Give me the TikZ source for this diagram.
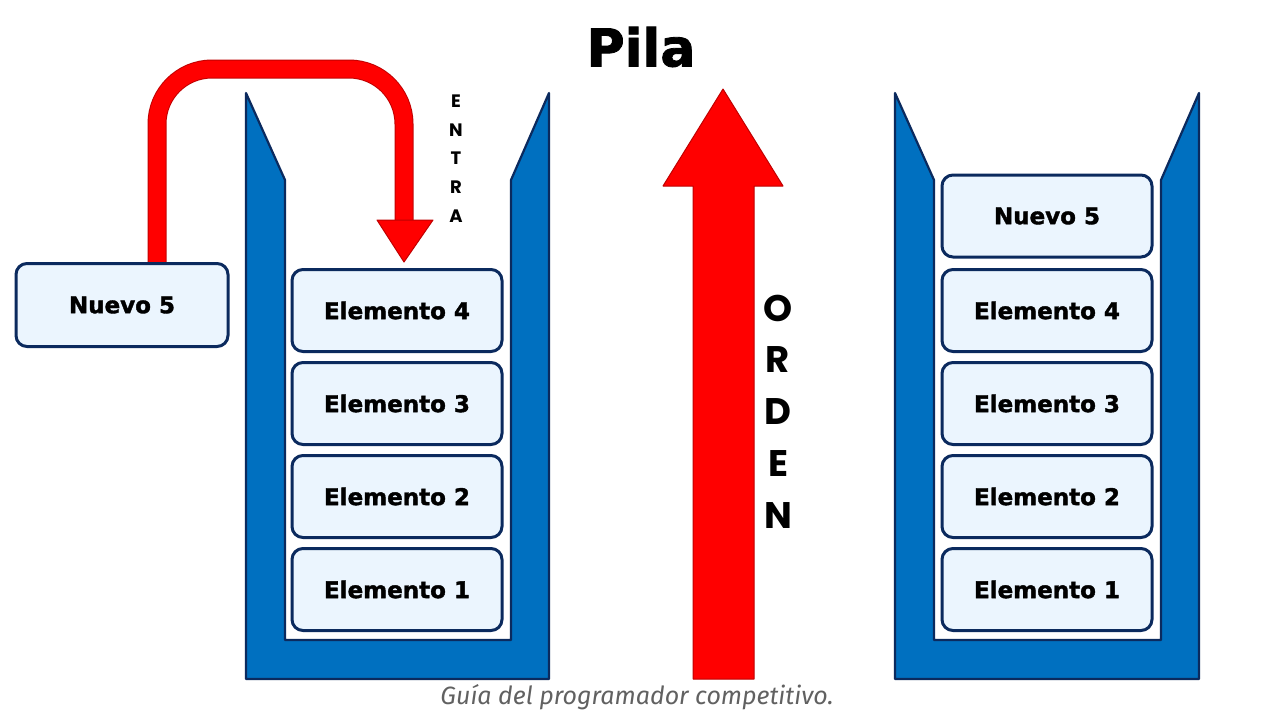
\documentclass[tikz,border=0pt]{standalone}
\usepackage{fontspec}
\setmainfont{DejaVu Sans}[BoldFeatures={FakeBold=1.6}]
\newfontfamily\gothic{Poppins}
\newfontfamily\hand{Fira Sans}
\usetikzlibrary{positioning}
\definecolor{navy}{HTML}{0B2A5E}
\definecolor{cubeta}{HTML}{0070C0}
\definecolor{cajafill}{HTML}{EBF5FE}
\definecolor{rojo}{HTML}{FF0000}
\definecolor{rojoosc}{HTML}{C00000}
\begin{document}
\begin{tikzpicture}[x=1pt,y=-1pt,
  caja/.style={draw=navy,line width=3pt,fill=cajafill,rounded corners=11pt,
    minimum width=210pt,minimum height=82pt,font=\bfseries\fontsize{23}{26}\selectfont},
  pared/.style={draw=navy,line width=2.2pt,fill=cubeta,line join=round},
  flecha/.style={draw=rojoosc,line width=1pt,fill=rojo,line join=round},
  tubo/.style={draw=rojoosc,line width=1pt,double=rojo,double distance=17pt,rounded corners=55pt},
  letra/.style={font=\gothic\bfseries\fontsize{18}{20}\selectfont},
  orden/.style={font=\gothic\bfseries\fontsize{37}{40}\selectfont},
  titulo/.style={font=\bfseries\fontsize{52}{56}\selectfont}]
\useasboundingbox (0,0) rectangle (1280,720);
\fill[white] (0,0) rectangle (1280,720);
\node[titulo] (titulo) at (641,47) {Pila};
% the two containers
\foreach \a/\b in {246/549,895/1199}
  \draw[pared] (\a,93) -- ({\a+39},180) -- ({\a+39},640) -- ({\b-38},640)
    -- ({\b-38},180) -- (\b,93) -- (\b,679) -- (\a,679) -- cycle;
% stacked elements
\foreach \n/\y in {1/589.5,2/496.5,3/403.5,4/310.5}
{
  \node[caja] (izq\n) at (397,\y) {Elemento \n};
  \node[caja] (der\n) at (1047,\y) {Elemento \n};
}
\node[caja] (der5) at (1047,216) {Nuevo 5};
% new element goes in
\coordinate (salida) at (157,264);
\coordinate (cabeza) at (404,221);
\coordinate (punta) at (404,262);
\draw[tubo] (salida) -- (157,69) -- (404,69) -- (cabeza);
\draw[flecha] (377,220) -- (433,220) -- (punta) -- cycle;
\node[caja,minimum width=212pt,minimum height=83pt] (nuevo) at (122,305) {Nuevo 5};
\foreach \l [count=\i] in {E,N,T,R,A}
  \node[letra] (entra\i) at (456,{72.3+28.7*\i}) {\l};
% order arrow
\draw[flecha] (693,679) -- (693,186) -- (663,186) -- (723,89) -- (783,186)
  -- (754,186) -- (754,679) -- cycle;
\foreach \l [count=\i] in {O,R,D,E,N}
  \node[orden] (orden\i) at (778,{256+52*\i}) {\l};
% footer
\node[font=\hand\itshape\fontsize{25}{28}\selectfont,text=black!62] (pie) at (637,697)
  {Guía del programador competitivo.};
\end{tikzpicture}
\end{document}
